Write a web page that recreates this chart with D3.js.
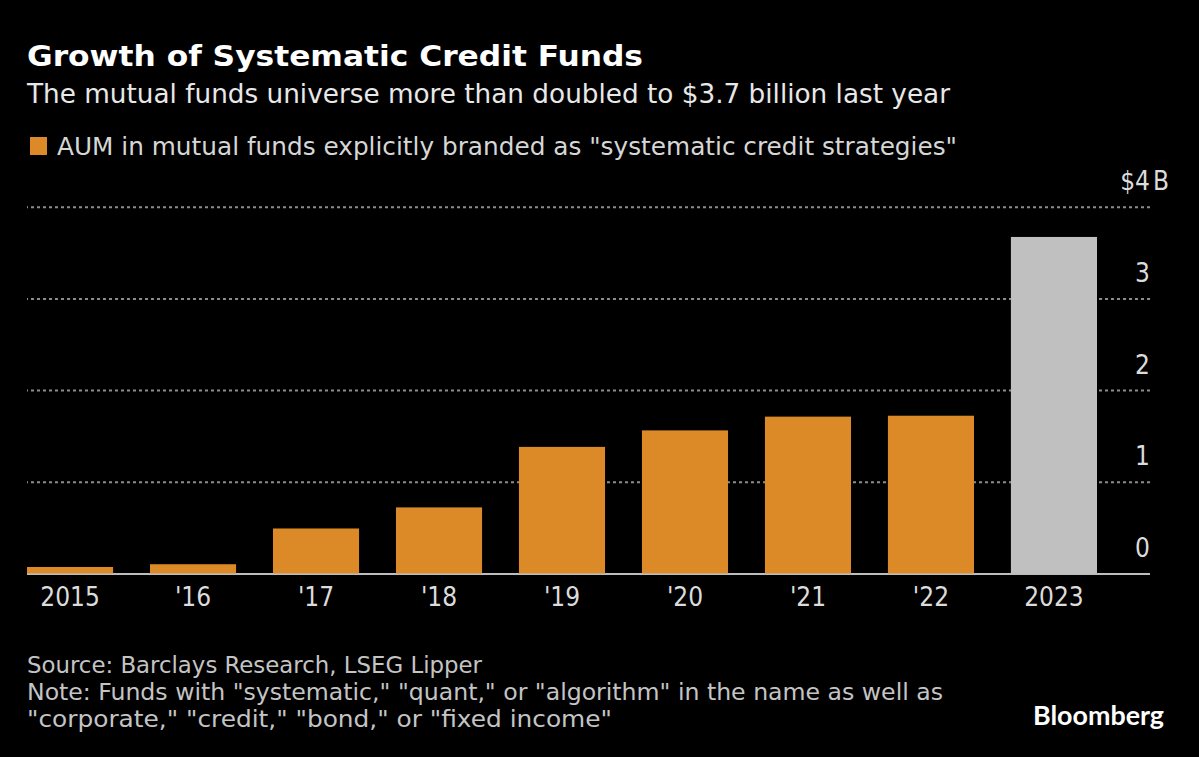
<!DOCTYPE html>
<meta charset="utf-8">
<head>
  <title>Growth of Systematic Credit Funds</title>
</head>

<style>
  body { margin: 0; background: #000; }
  svg { display: block; }
  text { font-family: 'DejaVu Sans Condensed', 'Liberation Sans Narrow', 'DejaVu Sans', sans-serif; }
</style>

<body>

  <div id="chart"></div>

  <script src="https://d3js.org/d3.v7.min.js"></script>
  <script>

  // data (billions of dollars)
  var years = ["2015", "'16", "'17", "'18", "'19", "'20", "'21", "'22", "2023"];
  var aum = [0.07, 0.10, 0.49, 0.72, 1.38, 1.56, 1.71, 1.72, 3.67];
  var yTicks = [0, 1, 2, 3, 4];
  var sourceLines = [
    "Source: Barclays Research, LSEG Lipper",
    "Note: Funds with \"systematic,\" \"quant,\" or \"algorithm\" in the name as well as",
    "\"corporate,\" \"credit,\" \"bond,\" or \"fixed income\""
  ];

  var W = 1199, H = 757;
  var left = 27, right = 1150;

  var svg = d3.select("#chart")
    .append("svg")
      .attr("width", W)
      .attr("height", H)
      .style("background", "#000");

  // title block
  svg.append("text")
    .attr("x", 27).attr("y", 66)
    .attr("textLength", 616).attr("lengthAdjust", "spacingAndGlyphs")
    .style("font-size", "28px").style("font-weight", "bold").style("fill", "#fff")
    .text("Growth of Systematic Credit Funds");

  svg.append("text")
    .attr("x", 27).attr("y", 103)
    .attr("textLength", 923).attr("lengthAdjust", "spacingAndGlyphs")
    .style("font-size", "26px").style("fill", "#e8e8e8")
    .text("The mutual funds universe more than doubled to $3.7 billion last year");

  // legend
  svg.append("rect")
    .attr("x", 30).attr("y", 137).attr("width", 17).attr("height", 18)
    .style("fill", "#dc8a27");
  svg.append("text")
    .attr("x", 57).attr("y", 155)
    .attr("textLength", 900).attr("lengthAdjust", "spacingAndGlyphs")
    .style("font-size", "24px").style("fill", "#d6d6d6")
    .text("AUM in mutual funds explicitly branded as \"systematic credit strategies\"");

  // scales
  var x = d3.scaleBand()
    .domain(years)
    .range([left, 1097])
    .paddingInner(0.3)
    .paddingOuter(0);

  var y = d3.scaleLinear()
    .domain([0, 4])
    .range([573.4, 206.7]);

  // y axis on the right, with gridlines across the plot
  var yAxis = svg.append("g")
    .attr("transform", "translate(" + right + ",0)")
    .call(d3.axisRight(y)
      .tickValues(yTicks)
      .tickSize(-(right - left))
      .tickFormat(function(d) { return d === 4 ? "$4" : d; }));

  yAxis.select(".domain").remove();
  yAxis.selectAll(".tick line")
    .style("stroke", function(d) { return d === 0 ? "#bdbdbd" : "#8c8c8c"; })
    .style("stroke-width", 2)
    .style("stroke-dasharray", function(d) { return d === 0 ? null : "3,3"; });
  yAxis.selectAll(".tick text")
    .attr("x", 0).attr("dy", null).attr("y", -17)
    .attr("text-anchor", "end")
    .style("font-size", "26px")
    .style("fill", "#dcdcdc")
    .style("font-family", "'DejaVu Sans Condensed', 'Liberation Sans Narrow', 'DejaVu Sans', sans-serif");
  yAxis.selectAll(".tick").filter(function(d) { return d === 4; })
    .append("text")
      .attr("x", 3).attr("y", -17)
      .attr("text-anchor", "start")
      .style("font-size", "26px")
      .style("fill", "#dcdcdc")
      .text("B");

  // bars
  svg.selectAll("rect.bar")
    .data(aum)
    .enter()
    .append("rect")
      .attr("class", "bar")
      .attr("x", function(d, i) { return x(years[i]); })
      .attr("y", function(d) { return y(d); })
      .attr("width", x.bandwidth())
      .attr("height", function(d) { return y(0) - y(d); })
      .style("fill", function(d, i) { return i === aum.length - 1 ? "#c0c0c0" : "#dc8a27"; });

  // x axis labels
  var xAxis = svg.append("g")
    .attr("transform", "translate(0," + y(0) + ")")
    .call(d3.axisBottom(x).tickSize(0).tickPadding(14));
  xAxis.select(".domain").remove();
  xAxis.selectAll(".tick text")
    .style("font-size", "26px")
    .style("fill", "#dcdcdc")
    .style("font-family", "'DejaVu Sans Condensed', 'Liberation Sans Narrow', 'DejaVu Sans', sans-serif");

  // footnotes
  var noteWidths = [455, 916, 585];
  svg.selectAll("text.note")
    .data(sourceLines)
    .enter()
    .append("text")
      .attr("class", "note")
      .attr("x", 27)
      .attr("y", function(d, i) { return 673 + i * 27; })
      .attr("textLength", function(d, i) { return noteWidths[i]; })
      .attr("lengthAdjust", "spacingAndGlyphs")
      .style("font-size", "23px")
      .style("fill", "#c4c4c4")
      .text(function(d) { return d; });

  svg.append("text")
    .attr("x", 1033).attr("y", 725)
    .attr("textLength", 131).attr("lengthAdjust", "spacingAndGlyphs")
    .style("font-family", "'Lato', 'Open Sans', sans-serif")
    .style("font-size", "26px").style("font-weight", "bold").style("fill", "#fff")
    .text("Bloomberg");

  </script>
</body>
</html>
